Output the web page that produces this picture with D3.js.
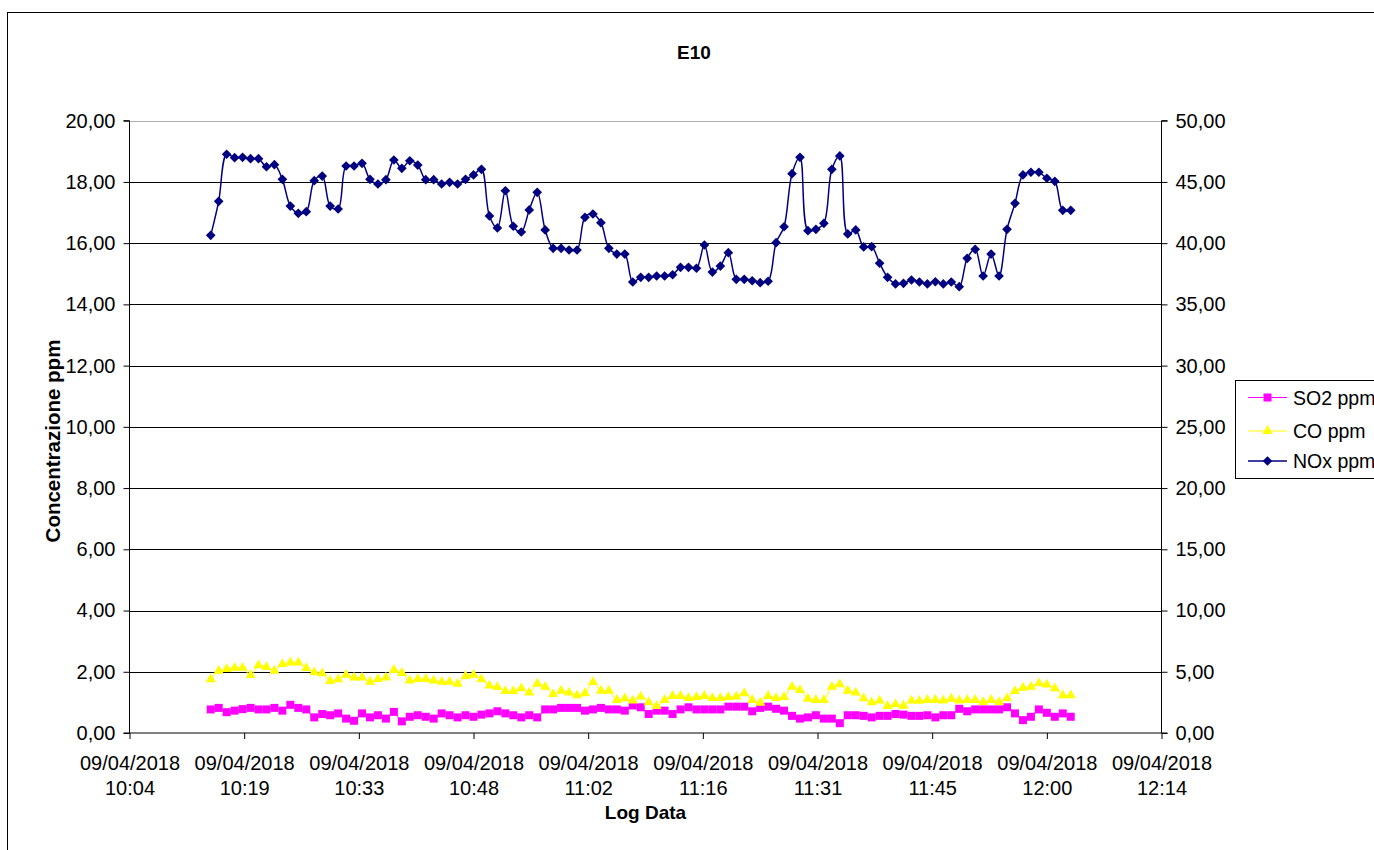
<!DOCTYPE html>
<html>
<head>
<meta charset="utf-8">
<script src="https://cdn.jsdelivr.net/npm/d3@7"></script>
<style>
  html, body { margin: 0; padding: 0; background: #fff; }
  svg { display: block; }
  text { font-family: "Liberation Sans", Arial, sans-serif; fill: #000; }
</style>
</head>
<body>
<svg id="chart" width="1374" height="850"></svg>
<script>
// ---- data ----
const times = [
  "10:15","10:16","10:17","10:18","10:19","10:20","10:21","10:22","10:23","10:24",
  "10:25","10:26","10:27","10:28","10:29","10:30","10:31","10:32","10:33","10:34",
  "10:35","10:36","10:37","10:38","10:39","10:40","10:41","10:42","10:43","10:44",
  "10:45","10:46","10:47","10:48","10:49","10:50","10:51","10:52","10:53","10:54",
  "10:55","10:56","10:57","10:58","10:59","11:00","11:01","11:02","11:03","11:04",
  "11:05","11:06","11:07","11:08","11:09","11:10","11:11","11:12","11:13","11:14",
  "11:15","11:16","11:17","11:18","11:19","11:20","11:21","11:22","11:23","11:24",
  "11:25","11:26","11:27","11:28","11:29","11:30","11:31","11:32","11:33","11:34",
  "11:35","11:36","11:37","11:38","11:39","11:40","11:41","11:42","11:43","11:44",
  "11:45","11:46","11:47","11:48","11:49","11:50","11:51","11:52","11:53","11:54",
  "11:55","11:56","11:57","11:58","11:59","12:00","12:01","12:02","12:03"
];
const so2 = [
  0.77,0.82,0.68,0.73,0.78,0.82,0.77,0.77,0.82,0.73,0.92,0.82,0.77,0.51,0.62,0.58,0.64,0.47,0.40,0.64,0.51,0.58,0.47,0.69,0.38,0.53,0.58,
  0.53,0.47,0.64,0.58,0.51,0.58,0.53,0.60,0.64,0.71,0.64,0.58,0.51,0.58,0.51,0.77,0.77,0.82,0.82,0.82,0.73,0.77,0.82,0.77,0.77,0.73,0.90,
  0.84,0.62,0.73,0.73,0.62,0.77,0.84,0.77,0.77,0.77,0.77,0.86,0.86,0.86,0.71,0.82,0.86,0.79,0.73,0.56,0.47,0.51,0.58,0.47,0.47,0.32,0.58,0.58,
  0.56,0.51,0.56,0.56,0.62,0.60,0.56,0.56,0.58,0.51,0.58,0.58,0.79,0.71,0.77,0.77,0.77,0.77,0.84,0.64,0.42,0.53,0.77,0.66,0.53,0.64,0.53
];
const co = [
  1.75,2.03,2.09,2.13,2.13,1.89,2.21,2.15,2.03,2.25,2.30,2.30,2.12,1.98,1.95,1.70,1.75,1.90,1.81,1.81,1.67,1.76,1.81,2.06,1.96,1.71,1.76,
  1.76,1.71,1.67,1.67,1.61,1.86,1.90,1.75,1.55,1.50,1.37,1.37,1.46,1.32,1.61,1.51,1.27,1.38,1.32,1.23,1.30,1.66,1.38,1.38,1.08,1.13,1.06,
  1.19,1.00,0.88,1.08,1.21,1.21,1.14,1.17,1.21,1.14,1.14,1.17,1.19,1.30,1.08,0.99,1.21,1.14,1.17,1.51,1.40,1.12,1.08,1.08,1.51,1.59,1.38,1.32,
  1.13,1.00,1.06,0.88,0.94,0.89,1.06,1.05,1.08,1.08,1.06,1.12,1.06,1.08,1.08,1.01,1.08,1.01,1.13,1.37,1.48,1.51,1.62,1.58,1.46,1.23,1.23
];
const nox = [
  40.64,43.42,47.26,46.98,47.01,46.90,46.90,46.24,46.41,45.21,43.03,42.44,42.57,45.10,45.48,43.03,42.79,46.30,46.30,46.52,45.21,44.83,45.18,46.79,46.11,46.73,46.38,
  45.18,45.18,44.83,44.97,44.83,45.21,45.57,46.03,42.22,41.24,44.28,41.38,40.91,42.71,44.15,41.08,39.58,39.58,39.44,39.44,42.11,42.38,41.67,39.58,39.11,39.11,36.83,
  37.21,37.21,37.32,37.32,37.42,38.03,38.03,37.95,39.85,37.64,38.13,39.22,37.05,37.05,36.93,36.77,36.89,40.04,41.34,45.67,47.01,41.02,41.13,41.62,46.03,47.12,40.75,41.08,
  39.69,39.71,38.36,37.21,36.67,36.72,36.99,36.83,36.67,36.85,36.67,36.83,36.45,38.76,39.50,37.32,39.11,37.32,41.13,43.25,45.57,45.79,45.79,45.30,45.05,42.68,42.68
];
const xTickDate = "09/04/2018";
const xTickTimes = ["10:04","10:19","10:33","10:48","11:02","11:16","11:31","11:45","12:00","12:14"];
const yLeftTicks = [0,2,4,6,8,10,12,14,16,18,20];
const yRightTicks = [0,5,10,15,20,25,30,35,40,45,50];
const seriesNames = ["SO2 ppm","CO ppm","NOx ppm"];
const title = "E10";
const yTitle = "Concentrazione ppm";
const xTitle = "Log Data";

// ---- layout ----
const svg = d3.select("#chart");
const L = 129.5, R = 1161.5, T = 120.7, B = 733;
const toMin = s => { const [h, m] = s.split(":").map(Number); return h * 60 + m; };
const x = d3.scaleLinear().domain([0.42 * 1440, 0.51 * 1440]).range([L, R]);
const yL = d3.scaleLinear().domain([0, 20]).range([B, T]);
const yR = d3.scaleLinear().domain([0, 50]).range([B, T]);
const fmt = v => v.toFixed(2).replace(".", ",");

// outer border
svg.append("rect").attr("x", 7.5).attr("y", 12.5).attr("width", 1420).attr("height", 900)
  .attr("fill", "#fff").attr("stroke", "#000").attr("stroke-width", 1.2)
  .attr("shape-rendering", "crispEdges");

// gridlines
svg.append("g").selectAll("line").data(yLeftTicks.filter(d => d > 0)).join("line")
  .attr("x1", L).attr("x2", R)
  .attr("y1", d => Math.round(yL(d)) + 0.5).attr("y2", d => Math.round(yL(d)) + 0.5)
  .attr("stroke", d => d === 20 ? "#b0b0b0" : "#000").attr("stroke-width", 1);

// left axis
const gL = svg.append("g").attr("transform", `translate(${L},0)`)
  .call(d3.axisLeft(yL).tickValues(yLeftTicks).tickFormat(fmt).tickSize(6).tickPadding(8));
// right axis
const gR = svg.append("g").attr("transform", `translate(${R},0)`)
  .call(d3.axisRight(yR).tickValues(yRightTicks).tickFormat(fmt).tickSize(6).tickPadding(8));
// bottom axis
const xTickVals = xTickTimes.map((t, i) => (0.42 + 0.01 * i) * 1440);
const gB = svg.append("g").attr("transform", `translate(0,${B})`)
  .call(d3.axisBottom(x).tickValues(xTickVals).tickFormat("").tickSize(6));
[gL, gR, gB].forEach(g => {
  g.select(".domain").attr("stroke", "#000").attr("stroke-width", 1);
  g.selectAll(".tick line").attr("stroke", "#000");
  g.selectAll("text").style("font-family", '"Liberation Sans", Arial, sans-serif').style("font-size", "20px");
});
gL.select(".domain").attr("d", `M-6,${T}H0V${B}H-6`);
gR.select(".domain").attr("d", `M6,${T}H0V${B}H6`);
gB.select(".domain").attr("d", `M${L},0H${R}`);
gB.selectAll(".tick").each(function(d, i) {
  const t = d3.select(this).append("text").attr("fill", "#000").attr("text-anchor", "middle")
    .style("font-family", '"Liberation Sans", Arial, sans-serif').style("font-size", "20px");
  t.append("tspan").attr("x", 0).attr("y", 36.5).text(xTickDate);
  t.append("tspan").attr("x", 0).attr("y", 62).text(xTickTimes[i]);
});

// series
const pts = (arr, y) => arr.map((v, i) => [x(toMin(times[i])), y(v)]);
const so2P = pts(so2, yL), coP = pts(co, yL), noxP = pts(nox, yR);
const line = d3.line().curve(d3.curveCatmullRom.alpha(0.5));

svg.append("path").attr("d", line(so2P)).attr("fill", "none").attr("stroke", "#FF00FF").attr("stroke-width", 1);
svg.append("g").selectAll("rect").data(so2P).join("rect")
  .attr("x", d => d[0] - 4).attr("y", d => d[1] - 4).attr("width", 8).attr("height", 8)
  .attr("fill", "#FF00FF");

const tri = d3.symbol().type(d3.symbolTriangle).size(45);
svg.append("path").attr("d", line(coP)).attr("fill", "none").attr("stroke", "#FFFF00").attr("stroke-width", 1);
svg.append("g").selectAll("path").data(coP).join("path")
  .attr("d", tri).attr("transform", d => `translate(${d[0]},${d[1]})`)
  .attr("fill", "#FFFF00");

const dia = d3.symbol().type(d3.symbolDiamond2).size(60);
svg.append("path").attr("d", line(noxP)).attr("fill", "none").attr("stroke", "#000080").attr("stroke-width", 1.5);
svg.append("g").selectAll("path").data(noxP).join("path")
  .attr("d", dia).attr("transform", d => `translate(${d[0]},${d[1]})`)
  .attr("fill", "#000080");

// titles
svg.append("text").attr("x", 694).attr("y", 59).attr("text-anchor", "middle")
  .style("font-size", "19px").style("font-weight", "bold").text(title);
svg.append("text").attr("x", (L + R) / 2).attr("y", 819).attr("text-anchor", "middle")
  .style("font-size", "19px").style("font-weight", "bold").text(xTitle);
svg.append("text").attr("transform", `translate(59.5,441) rotate(-90)`).attr("text-anchor", "middle")
  .style("font-size", "20.5px").style("font-weight", "bold").text(yTitle);

// legend
const lg = svg.append("g");
lg.append("rect").attr("x", 1235.5).attr("y", 380.5).attr("width", 200).attr("height", 98)
  .attr("fill", "#fff").attr("stroke", "#000").attr("stroke-width", 1);
const rowsY = [397.5, 431, 461];
const colors = ["#FF00FF", "#FFFF00", "#000080"];
seriesNames.forEach((name, i) => {
  const cy = rowsY[i];
  lg.append("line").attr("x1", 1248).attr("x2", 1287).attr("y1", cy).attr("y2", cy)
    .attr("stroke", colors[i]).attr("stroke-width", i === 2 ? 1.5 : 1);
  const sym = i === 0 ? d3.symbol().type(d3.symbolSquare).size(64)
            : i === 1 ? tri : dia;
  lg.append("path").attr("d", sym).attr("transform", `translate(1267.5,${cy})`).attr("fill", colors[i]);
  lg.append("text").attr("x", 1293).attr("y", cy + 7).style("font-size", "19.5px").text(name);
});
</script>
</body>
</html>
